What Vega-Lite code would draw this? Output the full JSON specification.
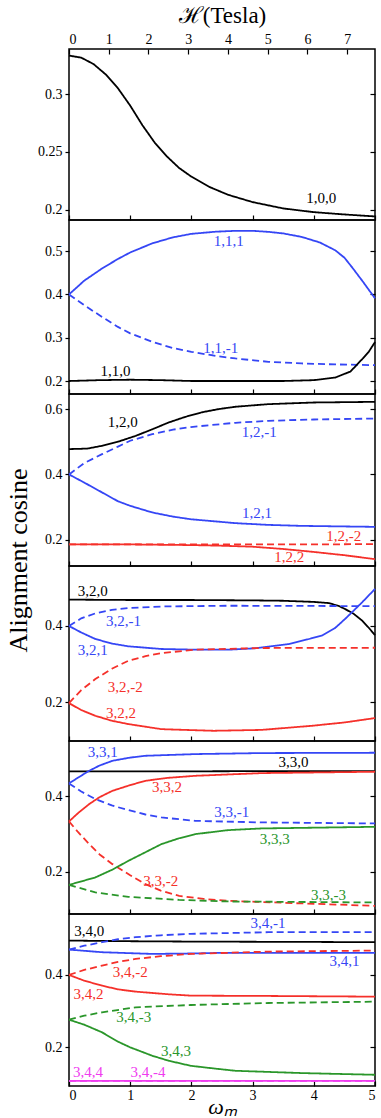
{
  "$schema": "https://vega.github.io/schema/vega-lite/v6.json",
  "background": "white",
  "padding": {"left": 5, "right": 5, "top": 3, "bottom": 0},
  "spacing": 0,
  "bounds": "flush",
  "title": {"text": "Alignment cosine", "orient": "left", "anchor": "middle", "font": "Liberation Serif", "fontSize": 26, "fontWeight": "normal", "color": "black", "offset": 5},
  "config": {
    "view": {"stroke": "black", "strokeWidth": 1.5},
    "axis": {"labelFont": "Liberation Serif", "labelFontSize": 14, "labelColor": "black", "titleFont": "Liberation Serif", "titleFontWeight": "normal", "titleColor": "black", "tickColor": "black", "tickWidth": 1.2, "domain": false, "grid": false},
    "text": {"font": "Liberation Serif", "fontSize": 15},
    "line": {"strokeWidth": 1.8}
  },
  "datasets": {
    "p1": [
      {"id": "1,0,0", "c": "k", "s": "solid", "w": 0, "v": 0.3333},
      {"id": "1,0,0", "c": "k", "s": "solid", "w": 0.2, "v": 0.3315},
      {"id": "1,0,0", "c": "k", "s": "solid", "w": 0.4, "v": 0.326},
      {"id": "1,0,0", "c": "k", "s": "solid", "w": 0.6, "v": 0.317},
      {"id": "1,0,0", "c": "k", "s": "solid", "w": 0.8, "v": 0.305},
      {"id": "1,0,0", "c": "k", "s": "solid", "w": 1.0, "v": 0.29},
      {"id": "1,0,0", "c": "k", "s": "solid", "w": 1.2, "v": 0.273},
      {"id": "1,0,0", "c": "k", "s": "solid", "w": 1.4, "v": 0.258},
      {"id": "1,0,0", "c": "k", "s": "solid", "w": 1.6, "v": 0.246},
      {"id": "1,0,0", "c": "k", "s": "solid", "w": 1.8, "v": 0.236},
      {"id": "1,0,0", "c": "k", "s": "solid", "w": 2.0, "v": 0.2285},
      {"id": "1,0,0", "c": "k", "s": "solid", "w": 2.3, "v": 0.2195},
      {"id": "1,0,0", "c": "k", "s": "solid", "w": 2.6, "v": 0.2128},
      {"id": "1,0,0", "c": "k", "s": "solid", "w": 3.0, "v": 0.2065},
      {"id": "1,0,0", "c": "k", "s": "solid", "w": 3.5, "v": 0.201},
      {"id": "1,0,0", "c": "k", "s": "solid", "w": 4.0, "v": 0.1978},
      {"id": "1,0,0", "c": "k", "s": "solid", "w": 4.5, "v": 0.1958},
      {"id": "1,0,0", "c": "k", "s": "solid", "w": 5.0, "v": 0.1941}
    ],
    "l1": [
      {"t": "1,0,0", "c": "k", "w": 4.12, "v": 0.2101}
    ],
    "p2": [
      {"id": "1,1,1", "c": "b", "s": "solid", "w": 0, "v": 0.4},
      {"id": "1,1,1", "c": "b", "s": "solid", "w": 0.25, "v": 0.432},
      {"id": "1,1,1", "c": "b", "s": "solid", "w": 0.54, "v": 0.46},
      {"id": "1,1,1", "c": "b", "s": "solid", "w": 0.8, "v": 0.482},
      {"id": "1,1,1", "c": "b", "s": "solid", "w": 1.0, "v": 0.497},
      {"id": "1,1,1", "c": "b", "s": "solid", "w": 1.36, "v": 0.518},
      {"id": "1,1,1", "c": "b", "s": "solid", "w": 1.7, "v": 0.532},
      {"id": "1,1,1", "c": "b", "s": "solid", "w": 2.0, "v": 0.54},
      {"id": "1,1,1", "c": "b", "s": "solid", "w": 2.4, "v": 0.545},
      {"id": "1,1,1", "c": "b", "s": "solid", "w": 2.72, "v": 0.547},
      {"id": "1,1,1", "c": "b", "s": "solid", "w": 3.0, "v": 0.547},
      {"id": "1,1,1", "c": "b", "s": "solid", "w": 3.26, "v": 0.5446},
      {"id": "1,1,1", "c": "b", "s": "solid", "w": 3.5, "v": 0.541},
      {"id": "1,1,1", "c": "b", "s": "solid", "w": 3.8, "v": 0.533},
      {"id": "1,1,1", "c": "b", "s": "solid", "w": 4.1, "v": 0.52},
      {"id": "1,1,1", "c": "b", "s": "solid", "w": 4.35, "v": 0.502},
      {"id": "1,1,1", "c": "b", "s": "solid", "w": 4.5, "v": 0.485},
      {"id": "1,1,1", "c": "b", "s": "solid", "w": 4.62, "v": 0.4637},
      {"id": "1,1,1", "c": "b", "s": "solid", "w": 4.8, "v": 0.43},
      {"id": "1,1,1", "c": "b", "s": "solid", "w": 5.0, "v": 0.391},
      {"id": "1,1,-1", "c": "b", "s": "dash", "w": 0, "v": 0.4},
      {"id": "1,1,-1", "c": "b", "s": "dash", "w": 0.25, "v": 0.375},
      {"id": "1,1,-1", "c": "b", "s": "dash", "w": 0.54, "v": 0.348},
      {"id": "1,1,-1", "c": "b", "s": "dash", "w": 0.8, "v": 0.325},
      {"id": "1,1,-1", "c": "b", "s": "dash", "w": 1.0, "v": 0.31},
      {"id": "1,1,-1", "c": "b", "s": "dash", "w": 1.36, "v": 0.2906},
      {"id": "1,1,-1", "c": "b", "s": "dash", "w": 1.7, "v": 0.276},
      {"id": "1,1,-1", "c": "b", "s": "dash", "w": 2.0, "v": 0.2674},
      {"id": "1,1,-1", "c": "b", "s": "dash", "w": 2.4, "v": 0.258},
      {"id": "1,1,-1", "c": "b", "s": "dash", "w": 2.72, "v": 0.2521},
      {"id": "1,1,-1", "c": "b", "s": "dash", "w": 3.26, "v": 0.2444},
      {"id": "1,1,-1", "c": "b", "s": "dash", "w": 3.8, "v": 0.2406},
      {"id": "1,1,-1", "c": "b", "s": "dash", "w": 4.35, "v": 0.2383},
      {"id": "1,1,-1", "c": "b", "s": "dash", "w": 5.0, "v": 0.2367},
      {"id": "1,1,0", "c": "k", "s": "solid", "w": 0, "v": 0.2},
      {"id": "1,1,0", "c": "k", "s": "solid", "w": 0.5, "v": 0.202},
      {"id": "1,1,0", "c": "k", "s": "solid", "w": 1.0, "v": 0.203},
      {"id": "1,1,0", "c": "k", "s": "solid", "w": 1.5, "v": 0.202},
      {"id": "1,1,0", "c": "k", "s": "solid", "w": 2.0, "v": 0.2},
      {"id": "1,1,0", "c": "k", "s": "solid", "w": 3.0, "v": 0.2},
      {"id": "1,1,0", "c": "k", "s": "solid", "w": 3.5, "v": 0.2},
      {"id": "1,1,0", "c": "k", "s": "solid", "w": 4.0, "v": 0.202},
      {"id": "1,1,0", "c": "k", "s": "solid", "w": 4.35, "v": 0.208},
      {"id": "1,1,0", "c": "k", "s": "solid", "w": 4.6, "v": 0.222},
      {"id": "1,1,0", "c": "k", "s": "solid", "w": 4.7, "v": 0.237},
      {"id": "1,1,0", "c": "k", "s": "solid", "w": 4.8, "v": 0.252},
      {"id": "1,1,0", "c": "k", "s": "solid", "w": 4.9, "v": 0.268},
      {"id": "1,1,0", "c": "k", "s": "solid", "w": 5.0, "v": 0.29}
    ],
    "l2": [
      {"t": "1,1,1", "c": "b", "w": 2.61, "v": 0.524},
      {"t": "1,1,-1", "c": "b", "w": 2.48, "v": 0.2753},
      {"t": "1,1,0", "c": "k", "w": 0.76, "v": 0.2236}
    ],
    "p3": [
      {"id": "1,2,0", "c": "k", "s": "solid", "w": 0, "v": 0.4775},
      {"id": "1,2,0", "c": "k", "s": "solid", "w": 0.3, "v": 0.479},
      {"id": "1,2,0", "c": "k", "s": "solid", "w": 0.54, "v": 0.4876},
      {"id": "1,2,0", "c": "k", "s": "solid", "w": 0.8, "v": 0.5},
      {"id": "1,2,0", "c": "k", "s": "solid", "w": 1.09, "v": 0.518},
      {"id": "1,2,0", "c": "k", "s": "solid", "w": 1.36, "v": 0.538},
      {"id": "1,2,0", "c": "k", "s": "solid", "w": 1.63, "v": 0.559},
      {"id": "1,2,0", "c": "k", "s": "solid", "w": 1.9, "v": 0.576},
      {"id": "1,2,0", "c": "k", "s": "solid", "w": 2.17, "v": 0.59},
      {"id": "1,2,0", "c": "k", "s": "solid", "w": 2.45, "v": 0.6},
      {"id": "1,2,0", "c": "k", "s": "solid", "w": 2.72, "v": 0.607},
      {"id": "1,2,0", "c": "k", "s": "solid", "w": 3.26, "v": 0.615},
      {"id": "1,2,0", "c": "k", "s": "solid", "w": 4.0, "v": 0.62},
      {"id": "1,2,0", "c": "k", "s": "solid", "w": 5.0, "v": 0.622},
      {"id": "1,2,-1", "c": "b", "s": "dash", "w": 0, "v": 0.4},
      {"id": "1,2,-1", "c": "b", "s": "dash", "w": 0.25, "v": 0.435},
      {"id": "1,2,-1", "c": "b", "s": "dash", "w": 0.54, "v": 0.462},
      {"id": "1,2,-1", "c": "b", "s": "dash", "w": 0.8, "v": 0.485},
      {"id": "1,2,-1", "c": "b", "s": "dash", "w": 1.0, "v": 0.503},
      {"id": "1,2,-1", "c": "b", "s": "dash", "w": 1.36, "v": 0.523},
      {"id": "1,2,-1", "c": "b", "s": "dash", "w": 1.7, "v": 0.537},
      {"id": "1,2,-1", "c": "b", "s": "dash", "w": 1.99, "v": 0.545},
      {"id": "1,2,-1", "c": "b", "s": "dash", "w": 2.72, "v": 0.558},
      {"id": "1,2,-1", "c": "b", "s": "dash", "w": 3.26, "v": 0.564},
      {"id": "1,2,-1", "c": "b", "s": "dash", "w": 4.0, "v": 0.568},
      {"id": "1,2,-1", "c": "b", "s": "dash", "w": 5.0, "v": 0.571},
      {"id": "1,2,1", "c": "b", "s": "solid", "w": 0, "v": 0.4},
      {"id": "1,2,1", "c": "b", "s": "solid", "w": 0.25, "v": 0.375},
      {"id": "1,2,1", "c": "b", "s": "solid", "w": 0.54, "v": 0.345},
      {"id": "1,2,1", "c": "b", "s": "solid", "w": 0.8, "v": 0.318},
      {"id": "1,2,1", "c": "b", "s": "solid", "w": 1.0, "v": 0.304},
      {"id": "1,2,1", "c": "b", "s": "solid", "w": 1.36, "v": 0.2837},
      {"id": "1,2,1", "c": "b", "s": "solid", "w": 1.7, "v": 0.271},
      {"id": "1,2,1", "c": "b", "s": "solid", "w": 1.99, "v": 0.263},
      {"id": "1,2,1", "c": "b", "s": "solid", "w": 2.72, "v": 0.251},
      {"id": "1,2,1", "c": "b", "s": "solid", "w": 3.26, "v": 0.2457},
      {"id": "1,2,1", "c": "b", "s": "solid", "w": 3.8, "v": 0.2427},
      {"id": "1,2,1", "c": "b", "s": "solid", "w": 5.0, "v": 0.2397},
      {"id": "1,2,-2", "c": "r", "s": "dash", "w": 0, "v": 0.186},
      {"id": "1,2,-2", "c": "r", "s": "dash", "w": 1, "v": 0.186},
      {"id": "1,2,-2", "c": "r", "s": "dash", "w": 2, "v": 0.186},
      {"id": "1,2,-2", "c": "r", "s": "dash", "w": 3, "v": 0.186},
      {"id": "1,2,-2", "c": "r", "s": "dash", "w": 4, "v": 0.186},
      {"id": "1,2,-2", "c": "r", "s": "dash", "w": 5, "v": 0.187},
      {"id": "1,2,2", "c": "r", "s": "solid", "w": 0, "v": 0.186},
      {"id": "1,2,2", "c": "r", "s": "solid", "w": 1, "v": 0.186},
      {"id": "1,2,2", "c": "r", "s": "solid", "w": 2, "v": 0.184},
      {"id": "1,2,2", "c": "r", "s": "solid", "w": 2.5, "v": 0.182},
      {"id": "1,2,2", "c": "r", "s": "solid", "w": 3, "v": 0.179},
      {"id": "1,2,2", "c": "r", "s": "solid", "w": 3.5, "v": 0.172},
      {"id": "1,2,2", "c": "r", "s": "solid", "w": 4, "v": 0.163},
      {"id": "1,2,2", "c": "r", "s": "solid", "w": 4.5, "v": 0.153},
      {"id": "1,2,2", "c": "r", "s": "solid", "w": 5, "v": 0.141}
    ],
    "l3": [
      {"t": "1,2,0", "c": "k", "w": 0.88, "v": 0.561},
      {"t": "1,2,-1", "c": "b", "w": 3.11, "v": 0.53},
      {"t": "1,2,1", "c": "b", "w": 3.07, "v": 0.2815},
      {"t": "1,2,-2", "c": "r", "w": 4.49, "v": 0.212},
      {"t": "1,2,2", "c": "r", "w": 3.6, "v": 0.146}
    ],
    "p4": [
      {"id": "3,2,0", "c": "k", "s": "solid", "w": 0, "v": 0.469},
      {"id": "3,2,0", "c": "k", "s": "solid", "w": 1, "v": 0.468},
      {"id": "3,2,0", "c": "k", "s": "solid", "w": 2, "v": 0.468},
      {"id": "3,2,0", "c": "k", "s": "solid", "w": 3, "v": 0.467},
      {"id": "3,2,0", "c": "k", "s": "solid", "w": 3.5, "v": 0.466},
      {"id": "3,2,0", "c": "k", "s": "solid", "w": 4, "v": 0.463},
      {"id": "3,2,0", "c": "k", "s": "solid", "w": 4.24, "v": 0.46},
      {"id": "3,2,0", "c": "k", "s": "solid", "w": 4.4, "v": 0.453},
      {"id": "3,2,0", "c": "k", "s": "solid", "w": 4.51, "v": 0.4445},
      {"id": "3,2,0", "c": "k", "s": "solid", "w": 4.65, "v": 0.432},
      {"id": "3,2,0", "c": "k", "s": "solid", "w": 4.79, "v": 0.414},
      {"id": "3,2,0", "c": "k", "s": "solid", "w": 4.9, "v": 0.395},
      {"id": "3,2,0", "c": "k", "s": "solid", "w": 5, "v": 0.376},
      {"id": "3,2,-1", "c": "b", "s": "dash", "w": 0, "v": 0.4},
      {"id": "3,2,-1", "c": "b", "s": "dash", "w": 0.2, "v": 0.42},
      {"id": "3,2,-1", "c": "b", "s": "dash", "w": 0.43, "v": 0.433},
      {"id": "3,2,-1", "c": "b", "s": "dash", "w": 0.7, "v": 0.442},
      {"id": "3,2,-1", "c": "b", "s": "dash", "w": 0.97, "v": 0.447},
      {"id": "3,2,-1", "c": "b", "s": "dash", "w": 1.51, "v": 0.451},
      {"id": "3,2,-1", "c": "b", "s": "dash", "w": 2.6, "v": 0.453},
      {"id": "3,2,-1", "c": "b", "s": "dash", "w": 5, "v": 0.452},
      {"id": "3,2,1", "c": "b", "s": "solid", "w": 0, "v": 0.4},
      {"id": "3,2,1", "c": "b", "s": "solid", "w": 0.2, "v": 0.383},
      {"id": "3,2,1", "c": "b", "s": "solid", "w": 0.43, "v": 0.366},
      {"id": "3,2,1", "c": "b", "s": "solid", "w": 0.7, "v": 0.354},
      {"id": "3,2,1", "c": "b", "s": "solid", "w": 0.97, "v": 0.3468},
      {"id": "3,2,1", "c": "b", "s": "solid", "w": 1.51, "v": 0.3398},
      {"id": "3,2,1", "c": "b", "s": "solid", "w": 2.06, "v": 0.338},
      {"id": "3,2,1", "c": "b", "s": "solid", "w": 2.6, "v": 0.338},
      {"id": "3,2,1", "c": "b", "s": "solid", "w": 3.04, "v": 0.3416},
      {"id": "3,2,1", "c": "b", "s": "solid", "w": 3.59, "v": 0.3528},
      {"id": "3,2,1", "c": "b", "s": "solid", "w": 3.9, "v": 0.365},
      {"id": "3,2,1", "c": "b", "s": "solid", "w": 4.13, "v": 0.3746},
      {"id": "3,2,1", "c": "b", "s": "solid", "w": 4.35, "v": 0.395},
      {"id": "3,2,1", "c": "b", "s": "solid", "w": 4.51, "v": 0.4183},
      {"id": "3,2,1", "c": "b", "s": "solid", "w": 4.65, "v": 0.44},
      {"id": "3,2,1", "c": "b", "s": "solid", "w": 4.79, "v": 0.462},
      {"id": "3,2,1", "c": "b", "s": "solid", "w": 5, "v": 0.497},
      {"id": "3,2,-2", "c": "r", "s": "dash", "w": 0, "v": 0.1983},
      {"id": "3,2,-2", "c": "r", "s": "dash", "w": 0.2, "v": 0.232},
      {"id": "3,2,-2", "c": "r", "s": "dash", "w": 0.43, "v": 0.261},
      {"id": "3,2,-2", "c": "r", "s": "dash", "w": 0.7, "v": 0.288},
      {"id": "3,2,-2", "c": "r", "s": "dash", "w": 0.97, "v": 0.309},
      {"id": "3,2,-2", "c": "r", "s": "dash", "w": 1.25, "v": 0.321},
      {"id": "3,2,-2", "c": "r", "s": "dash", "w": 1.51, "v": 0.329},
      {"id": "3,2,-2", "c": "r", "s": "dash", "w": 2.06, "v": 0.338},
      {"id": "3,2,-2", "c": "r", "s": "dash", "w": 3.14, "v": 0.3424},
      {"id": "3,2,-2", "c": "r", "s": "dash", "w": 5, "v": 0.343},
      {"id": "3,2,2", "c": "r", "s": "solid", "w": 0, "v": 0.198},
      {"id": "3,2,2", "c": "r", "s": "solid", "w": 0.2, "v": 0.18},
      {"id": "3,2,2", "c": "r", "s": "solid", "w": 0.43, "v": 0.165},
      {"id": "3,2,2", "c": "r", "s": "solid", "w": 0.7, "v": 0.152},
      {"id": "3,2,2", "c": "r", "s": "solid", "w": 0.97, "v": 0.1433},
      {"id": "3,2,2", "c": "r", "s": "solid", "w": 1.51, "v": 0.13},
      {"id": "3,2,2", "c": "r", "s": "solid", "w": 2.36, "v": 0.1257},
      {"id": "3,2,2", "c": "r", "s": "solid", "w": 3.14, "v": 0.128},
      {"id": "3,2,2", "c": "r", "s": "solid", "w": 3.97, "v": 0.1388},
      {"id": "3,2,2", "c": "r", "s": "solid", "w": 4.51, "v": 0.1477},
      {"id": "3,2,2", "c": "r", "s": "solid", "w": 5, "v": 0.159}
    ],
    "l4": [
      {"t": "3,2,0", "c": "k", "w": 0.39, "v": 0.4925},
      {"t": "3,2,-1", "c": "b", "w": 0.89, "v": 0.4139},
      {"t": "3,2,1", "c": "b", "w": 0.39, "v": 0.338},
      {"t": "3,2,-2", "c": "r", "w": 0.92, "v": 0.2393},
      {"t": "3,2,2", "c": "r", "w": 0.85, "v": 0.171}
    ],
    "p5": [
      {"id": "3,3,0", "c": "k", "s": "solid", "w": 0, "v": 0.4664},
      {"id": "3,3,0", "c": "k", "s": "solid", "w": 1, "v": 0.4664},
      {"id": "3,3,0", "c": "k", "s": "solid", "w": 2, "v": 0.4665},
      {"id": "3,3,0", "c": "k", "s": "solid", "w": 3, "v": 0.467},
      {"id": "3,3,0", "c": "k", "s": "solid", "w": 5, "v": 0.467},
      {"id": "3,3,1", "c": "b", "s": "solid", "w": 0, "v": 0.4345},
      {"id": "3,3,1", "c": "b", "s": "solid", "w": 0.15, "v": 0.45},
      {"id": "3,3,1", "c": "b", "s": "solid", "w": 0.33, "v": 0.468},
      {"id": "3,3,1", "c": "b", "s": "solid", "w": 0.5, "v": 0.482},
      {"id": "3,3,1", "c": "b", "s": "solid", "w": 0.71, "v": 0.4945},
      {"id": "3,3,1", "c": "b", "s": "solid", "w": 1.0, "v": 0.503},
      {"id": "3,3,1", "c": "b", "s": "solid", "w": 1.25, "v": 0.5078},
      {"id": "3,3,1", "c": "b", "s": "solid", "w": 2.07, "v": 0.5123},
      {"id": "3,3,1", "c": "b", "s": "solid", "w": 3.16, "v": 0.515},
      {"id": "3,3,1", "c": "b", "s": "solid", "w": 5, "v": 0.5158},
      {"id": "3,3,-1", "c": "b", "s": "dash", "w": 0, "v": 0.4345},
      {"id": "3,3,-1", "c": "b", "s": "dash", "w": 0.2, "v": 0.413},
      {"id": "3,3,-1", "c": "b", "s": "dash", "w": 0.43, "v": 0.3928},
      {"id": "3,3,-1", "c": "b", "s": "dash", "w": 0.7, "v": 0.376},
      {"id": "3,3,-1", "c": "b", "s": "dash", "w": 0.97, "v": 0.3636},
      {"id": "3,3,-1", "c": "b", "s": "dash", "w": 1.25, "v": 0.352},
      {"id": "3,3,-1", "c": "b", "s": "dash", "w": 1.51, "v": 0.3442},
      {"id": "3,3,-1", "c": "b", "s": "dash", "w": 2.06, "v": 0.3352},
      {"id": "3,3,-1", "c": "b", "s": "dash", "w": 3.14, "v": 0.331},
      {"id": "3,3,-1", "c": "b", "s": "dash", "w": 5, "v": 0.3283},
      {"id": "3,3,2", "c": "r", "s": "solid", "w": 0, "v": 0.3336},
      {"id": "3,3,2", "c": "r", "s": "solid", "w": 0.15, "v": 0.356},
      {"id": "3,3,2", "c": "r", "s": "solid", "w": 0.33, "v": 0.3796},
      {"id": "3,3,2", "c": "r", "s": "solid", "w": 0.5, "v": 0.398},
      {"id": "3,3,2", "c": "r", "s": "solid", "w": 0.71, "v": 0.4149},
      {"id": "3,3,2", "c": "r", "s": "solid", "w": 1.0, "v": 0.43},
      {"id": "3,3,2", "c": "r", "s": "solid", "w": 1.25, "v": 0.4414},
      {"id": "3,3,2", "c": "r", "s": "solid", "w": 1.6, "v": 0.449},
      {"id": "3,3,2", "c": "r", "s": "solid", "w": 2.07, "v": 0.4547},
      {"id": "3,3,2", "c": "r", "s": "solid", "w": 3.16, "v": 0.4619},
      {"id": "3,3,2", "c": "r", "s": "solid", "w": 5, "v": 0.4654},
      {"id": "3,3,-2", "c": "r", "s": "dash", "w": 0, "v": 0.3336},
      {"id": "3,3,-2", "c": "r", "s": "dash", "w": 0.15, "v": 0.305},
      {"id": "3,3,-2", "c": "r", "s": "dash", "w": 0.33, "v": 0.2734},
      {"id": "3,3,-2", "c": "r", "s": "dash", "w": 0.5, "v": 0.246},
      {"id": "3,3,-2", "c": "r", "s": "dash", "w": 0.71, "v": 0.2203},
      {"id": "3,3,-2", "c": "r", "s": "dash", "w": 1.0, "v": 0.191},
      {"id": "3,3,-2", "c": "r", "s": "dash", "w": 1.25, "v": 0.1672},
      {"id": "3,3,-2", "c": "r", "s": "dash", "w": 1.5, "v": 0.15},
      {"id": "3,3,-2", "c": "r", "s": "dash", "w": 1.8, "v": 0.1361},
      {"id": "3,3,-2", "c": "r", "s": "dash", "w": 2.2, "v": 0.128},
      {"id": "3,3,-2", "c": "r", "s": "dash", "w": 2.6, "v": 0.1229},
      {"id": "3,3,-2", "c": "r", "s": "dash", "w": 3.69, "v": 0.1167},
      {"id": "3,3,-2", "c": "r", "s": "dash", "w": 5, "v": 0.1096},
      {"id": "3,3,3", "c": "g", "s": "solid", "w": 0, "v": 0.1653},
      {"id": "3,3,3", "c": "g", "s": "solid", "w": 0.43, "v": 0.185},
      {"id": "3,3,3", "c": "g", "s": "solid", "w": 0.7, "v": 0.205},
      {"id": "3,3,3", "c": "g", "s": "solid", "w": 0.97, "v": 0.229},
      {"id": "3,3,3", "c": "g", "s": "solid", "w": 1.25, "v": 0.252},
      {"id": "3,3,3", "c": "g", "s": "solid", "w": 1.51, "v": 0.2734},
      {"id": "3,3,3", "c": "g", "s": "solid", "w": 1.8, "v": 0.289},
      {"id": "3,3,3", "c": "g", "s": "solid", "w": 2.06, "v": 0.2999},
      {"id": "3,3,3", "c": "g", "s": "solid", "w": 2.6, "v": 0.3105},
      {"id": "3,3,3", "c": "g", "s": "solid", "w": 3.14, "v": 0.315},
      {"id": "3,3,3", "c": "g", "s": "solid", "w": 5, "v": 0.3193},
      {"id": "3,3,-3", "c": "g", "s": "dash", "w": 0, "v": 0.1653},
      {"id": "3,3,-3", "c": "g", "s": "dash", "w": 0.43, "v": 0.1452},
      {"id": "3,3,-3", "c": "g", "s": "dash", "w": 0.97, "v": 0.1335},
      {"id": "3,3,-3", "c": "g", "s": "dash", "w": 1.8, "v": 0.1255},
      {"id": "3,3,-3", "c": "g", "s": "dash", "w": 2.6, "v": 0.1213},
      {"id": "3,3,-3", "c": "g", "s": "dash", "w": 5, "v": 0.1186}
    ],
    "l5": [
      {"t": "3,3,0", "c": "k", "w": 3.67, "v": 0.4903},
      {"t": "3,3,1", "c": "b", "w": 0.55, "v": 0.519},
      {"t": "3,3,-1", "c": "b", "w": 2.66, "v": 0.3575},
      {"t": "3,3,2", "c": "r", "w": 1.6, "v": 0.424},
      {"t": "3,3,-2", "c": "r", "w": 1.5, "v": 0.176},
      {"t": "3,3,3", "c": "g", "w": 3.36, "v": 0.2866},
      {"t": "3,3,-3", "c": "g", "w": 4.24, "v": 0.139}
    ],
    "p6": [
      {"id": "3,4,0", "c": "k", "s": "solid", "w": 0, "v": 0.4953},
      {"id": "3,4,0", "c": "k", "s": "solid", "w": 1, "v": 0.4935},
      {"id": "3,4,0", "c": "k", "s": "solid", "w": 2, "v": 0.4925},
      {"id": "3,4,0", "c": "k", "s": "solid", "w": 3, "v": 0.492},
      {"id": "3,4,0", "c": "k", "s": "solid", "w": 4, "v": 0.4915},
      {"id": "3,4,0", "c": "k", "s": "solid", "w": 5, "v": 0.4908},
      {"id": "3,4,-1", "c": "b", "s": "dash", "w": 0, "v": 0.4703},
      {"id": "3,4,-1", "c": "b", "s": "dash", "w": 0.25, "v": 0.481},
      {"id": "3,4,-1", "c": "b", "s": "dash", "w": 0.54, "v": 0.4908},
      {"id": "3,4,-1", "c": "b", "s": "dash", "w": 0.8, "v": 0.499},
      {"id": "3,4,-1", "c": "b", "s": "dash", "w": 1.09, "v": 0.5047},
      {"id": "3,4,-1", "c": "b", "s": "dash", "w": 1.5, "v": 0.51},
      {"id": "3,4,-1", "c": "b", "s": "dash", "w": 1.99, "v": 0.5139},
      {"id": "3,4,-1", "c": "b", "s": "dash", "w": 3.26, "v": 0.5186},
      {"id": "3,4,-1", "c": "b", "s": "dash", "w": 5, "v": 0.5186},
      {"id": "3,4,1", "c": "b", "s": "solid", "w": 0, "v": 0.4703},
      {"id": "3,4,1", "c": "b", "s": "solid", "w": 0.54, "v": 0.463},
      {"id": "3,4,1", "c": "b", "s": "solid", "w": 1.36, "v": 0.4583},
      {"id": "3,4,1", "c": "b", "s": "solid", "w": 2.0, "v": 0.4595},
      {"id": "3,4,1", "c": "b", "s": "solid", "w": 2.45, "v": 0.4611},
      {"id": "3,4,1", "c": "b", "s": "solid", "w": 5, "v": 0.4611},
      {"id": "3,4,-2", "c": "r", "s": "dash", "w": 0, "v": 0.4},
      {"id": "3,4,-2", "c": "r", "s": "dash", "w": 0.25, "v": 0.414},
      {"id": "3,4,-2", "c": "r", "s": "dash", "w": 0.54, "v": 0.4259},
      {"id": "3,4,-2", "c": "r", "s": "dash", "w": 0.8, "v": 0.436},
      {"id": "3,4,-2", "c": "r", "s": "dash", "w": 1.09, "v": 0.4444},
      {"id": "3,4,-2", "c": "r", "s": "dash", "w": 1.5, "v": 0.452},
      {"id": "3,4,-2", "c": "r", "s": "dash", "w": 1.99, "v": 0.4583},
      {"id": "3,4,-2", "c": "r", "s": "dash", "w": 3.26, "v": 0.4648},
      {"id": "3,4,-2", "c": "r", "s": "dash", "w": 5, "v": 0.4676},
      {"id": "3,4,2", "c": "r", "s": "solid", "w": 0, "v": 0.4},
      {"id": "3,4,2", "c": "r", "s": "solid", "w": 0.25, "v": 0.384},
      {"id": "3,4,2", "c": "r", "s": "solid", "w": 0.54, "v": 0.3704},
      {"id": "3,4,2", "c": "r", "s": "solid", "w": 0.8, "v": 0.36},
      {"id": "3,4,2", "c": "r", "s": "solid", "w": 1.09, "v": 0.3537},
      {"id": "3,4,2", "c": "r", "s": "solid", "w": 1.63, "v": 0.3463},
      {"id": "3,4,2", "c": "r", "s": "solid", "w": 1.99, "v": 0.3426},
      {"id": "3,4,2", "c": "r", "s": "solid", "w": 3.26, "v": 0.3417},
      {"id": "3,4,2", "c": "r", "s": "solid", "w": 5, "v": 0.3398},
      {"id": "3,4,-3", "c": "g", "s": "dash", "w": 0, "v": 0.2759},
      {"id": "3,4,-3", "c": "g", "s": "dash", "w": 0.25, "v": 0.287},
      {"id": "3,4,-3", "c": "g", "s": "dash", "w": 0.54, "v": 0.2963},
      {"id": "3,4,-3", "c": "g", "s": "dash", "w": 1.09, "v": 0.3102},
      {"id": "3,4,-3", "c": "g", "s": "dash", "w": 1.99, "v": 0.3167},
      {"id": "3,4,-3", "c": "g", "s": "dash", "w": 3.26, "v": 0.3222},
      {"id": "3,4,-3", "c": "g", "s": "dash", "w": 5, "v": 0.3259},
      {"id": "3,4,3", "c": "g", "s": "solid", "w": 0, "v": 0.2759},
      {"id": "3,4,3", "c": "g", "s": "solid", "w": 0.25, "v": 0.262},
      {"id": "3,4,3", "c": "g", "s": "solid", "w": 0.54, "v": 0.2408},
      {"id": "3,4,3", "c": "g", "s": "solid", "w": 0.8, "v": 0.215},
      {"id": "3,4,3", "c": "g", "s": "solid", "w": 1.0, "v": 0.1992},
      {"id": "3,4,3", "c": "g", "s": "solid", "w": 1.36, "v": 0.1759},
      {"id": "3,4,3", "c": "g", "s": "solid", "w": 1.63, "v": 0.162},
      {"id": "3,4,3", "c": "g", "s": "solid", "w": 1.99, "v": 0.148},
      {"id": "3,4,3", "c": "g", "s": "solid", "w": 2.4, "v": 0.14},
      {"id": "3,4,3", "c": "g", "s": "solid", "w": 2.72, "v": 0.1342},
      {"id": "3,4,3", "c": "g", "s": "solid", "w": 3.81, "v": 0.1278},
      {"id": "3,4,3", "c": "g", "s": "solid", "w": 5, "v": 0.1231},
      {"id": "3,4,4", "c": "m", "s": "solid", "w": 0, "v": 0.1064},
      {"id": "3,4,4", "c": "m", "s": "solid", "w": 5, "v": 0.1064},
      {"id": "3,4,-4", "c": "m", "s": "dash", "w": 0, "v": 0.1064},
      {"id": "3,4,-4", "c": "m", "s": "dash", "w": 5, "v": 0.1064}
    ],
    "l6": [
      {"t": "3,4,0", "c": "k", "w": 0.33, "v": 0.5213},
      {"t": "3,4,-1", "c": "b", "w": 3.25, "v": 0.5444},
      {"t": "3,4,1", "c": "b", "w": 4.5, "v": 0.438},
      {"t": "3,4,-2", "c": "r", "w": 1.0, "v": 0.409},
      {"t": "3,4,2", "c": "r", "w": 0.32, "v": 0.347},
      {"t": "3,4,-3", "c": "g", "w": 1.06, "v": 0.2825},
      {"t": "3,4,3", "c": "g", "w": 1.75, "v": 0.1897},
      {"t": "3,4,4", "c": "m", "w": 0.31, "v": 0.1297},
      {"t": "3,4,-4", "c": "m", "w": 1.29, "v": 0.1297}
    ]
  },
  "vconcat": [
    {
      "width": 306, "height": 171,
      "layer": [
        {"data": {"name": "p1"}, "mark": {"type": "line"},
         "encoding": {
           "x": {"field": "w", "type": "quantitative", "scale": {"domain": [0, 5], "nice": false, "zero": false}, "axis": {"orient": "bottom", "values": [0, 1, 2, 3, 4, 5], "labels": false, "tickSize": -5, "title": null}},
           "y": {"field": "v", "type": "quantitative", "scale": {"domain": [0.191, 0.339], "nice": false, "zero": false}, "axis": {"values": [0.2, 0.25, 0.3], "format": ".2~f", "tickSize": 4, "labelPadding": 3, "title": null}},
           "color": {"field": "c", "type": "nominal", "scale": {"domain": ["k", "b", "r", "g", "m"], "range": ["#000000", "#3546f5", "#f5302a", "#2a962a", "#ef3cef"]}, "legend": null},
           "strokeDash": {"field": "s", "type": "nominal", "scale": {"domain": ["solid", "dash"], "range": [[1, 0], [7, 4]]}, "legend": null},
           "detail": {"field": "id"}
         }},
        {"data": {"name": "l1"}, "mark": {"type": "text"},
         "encoding": {
           "x": {"field": "w", "type": "quantitative", "scale": {"domain": [0, 5], "nice": false, "zero": false}, "axis": {"orient": "top", "values": [0, 0.6494, 1.2987, 1.9481, 2.5974, 3.2468, 3.8961, 4.5455], "labelExpr": "format(datum.value * 1.54, '.0f')", "tickSize": -5, "labelPadding": 8, "title": "ℋ(Tesla)", "titleFontSize": 23, "titlePadding": 5}},
           "y": {"field": "v", "type": "quantitative", "axis": {"orient": "right", "values": [0.2, 0.25, 0.3], "labels": false, "tickSize": -5, "title": null}},
           "text": {"field": "t"},
           "color": {"field": "c", "type": "nominal", "legend": null}
         }}
      ],
      "resolve": {"axis": {"x": "independent", "y": "independent"}}
    },
    {
      "width": 306, "height": 174,
      "layer": [
        {"data": {"name": "p2"}, "mark": {"type": "line"},
         "encoding": {
           "x": {"field": "w", "type": "quantitative", "scale": {"domain": [0, 5], "nice": false, "zero": false}, "axis": {"orient": "bottom", "values": [0, 1, 2, 3, 4, 5], "labels": false, "tickSize": -5, "title": null}},
           "y": {"field": "v", "type": "quantitative", "scale": {"domain": [0.17, 0.572], "nice": false, "zero": false}, "axis": {"values": [0.2, 0.3, 0.4, 0.5], "format": ".2~f", "tickSize": 4, "labelPadding": 3, "title": null}},
           "color": {"field": "c", "type": "nominal", "scale": {"domain": ["k", "b", "r", "g", "m"], "range": ["#000000", "#3546f5", "#f5302a", "#2a962a", "#ef3cef"]}, "legend": null},
           "strokeDash": {"field": "s", "type": "nominal", "scale": {"domain": ["solid", "dash"], "range": [[1, 0], [7, 4]]}, "legend": null},
           "detail": {"field": "id"}
         }},
        {"data": {"name": "l2"}, "mark": {"type": "text"},
         "encoding": {
           "x": {"field": "w", "type": "quantitative", "scale": {"domain": [0, 5], "nice": false, "zero": false}, "axis": {"orient": "bottom", "values": [0, 1, 2, 3, 4, 5], "labels": false, "tickSize": -5, "title": null}},
           "y": {"field": "v", "type": "quantitative", "axis": {"orient": "right", "values": [0.2, 0.3, 0.4, 0.5], "labels": false, "tickSize": -5, "title": null}},
           "text": {"field": "t"},
           "color": {"field": "c", "type": "nominal", "legend": null}
         }}
      ],
      "resolve": {"axis": {"y": "independent"}}
    },
    {
      "width": 306, "height": 172,
      "layer": [
        {"data": {"name": "p3"}, "mark": {"type": "line"},
         "encoding": {
           "x": {"field": "w", "type": "quantitative", "scale": {"domain": [0, 5], "nice": false, "zero": false}, "axis": {"orient": "bottom", "values": [0, 1, 2, 3, 4, 5], "labels": false, "tickSize": -5, "title": null}},
           "y": {"field": "v", "type": "quantitative", "scale": {"domain": [0.12, 0.646], "nice": false, "zero": false}, "axis": {"values": [0.2, 0.4, 0.6], "format": ".2~f", "tickSize": 4, "labelPadding": 3, "title": null}},
           "color": {"field": "c", "type": "nominal", "scale": {"domain": ["k", "b", "r", "g", "m"], "range": ["#000000", "#3546f5", "#f5302a", "#2a962a", "#ef3cef"]}, "legend": null},
           "strokeDash": {"field": "s", "type": "nominal", "scale": {"domain": ["solid", "dash"], "range": [[1, 0], [7, 4]]}, "legend": null},
           "detail": {"field": "id"}
         }},
        {"data": {"name": "l3"}, "mark": {"type": "text"},
         "encoding": {
           "x": {"field": "w", "type": "quantitative", "scale": {"domain": [0, 5], "nice": false, "zero": false}, "axis": {"orient": "bottom", "values": [0, 1, 2, 3, 4, 5], "labels": false, "tickSize": -5, "title": null}},
           "y": {"field": "v", "type": "quantitative", "axis": {"orient": "right", "values": [0.2, 0.4, 0.6], "labels": false, "tickSize": -5, "title": null}},
           "text": {"field": "t"},
           "color": {"field": "c", "type": "nominal", "legend": null}
         }}
      ],
      "resolve": {"axis": {"y": "independent"}}
    },
    {
      "width": 306, "height": 175,
      "layer": [
        {"data": {"name": "p4"}, "mark": {"type": "line"},
         "encoding": {
           "x": {"field": "w", "type": "quantitative", "scale": {"domain": [0, 5], "nice": false, "zero": false}, "axis": {"orient": "bottom", "values": [0, 1, 2, 3, 4, 5], "labels": false, "tickSize": -5, "title": null}},
           "y": {"field": "v", "type": "quantitative", "scale": {"domain": [0.099, 0.557], "nice": false, "zero": false}, "axis": {"values": [0.2, 0.4], "format": ".2~f", "tickSize": 4, "labelPadding": 3, "title": null}},
           "color": {"field": "c", "type": "nominal", "scale": {"domain": ["k", "b", "r", "g", "m"], "range": ["#000000", "#3546f5", "#f5302a", "#2a962a", "#ef3cef"]}, "legend": null},
           "strokeDash": {"field": "s", "type": "nominal", "scale": {"domain": ["solid", "dash"], "range": [[1, 0], [7, 4]]}, "legend": null},
           "detail": {"field": "id"}
         }},
        {"data": {"name": "l4"}, "mark": {"type": "text"},
         "encoding": {
           "x": {"field": "w", "type": "quantitative", "scale": {"domain": [0, 5], "nice": false, "zero": false}, "axis": {"orient": "bottom", "values": [0, 1, 2, 3, 4, 5], "labels": false, "tickSize": -5, "title": null}},
           "y": {"field": "v", "type": "quantitative", "axis": {"orient": "right", "values": [0.2, 0.4], "labels": false, "tickSize": -5, "title": null}},
           "text": {"field": "t"},
           "color": {"field": "c", "type": "nominal", "legend": null}
         }}
      ],
      "resolve": {"axis": {"y": "independent"}}
    },
    {
      "width": 306, "height": 173,
      "layer": [
        {"data": {"name": "p5"}, "mark": {"type": "line"},
         "encoding": {
           "x": {"field": "w", "type": "quantitative", "scale": {"domain": [0, 5], "nice": false, "zero": false}, "axis": {"orient": "bottom", "values": [0, 1, 2, 3, 4, 5], "labels": false, "tickSize": -5, "title": null}},
           "y": {"field": "v", "type": "quantitative", "scale": {"domain": [0.088, 0.547], "nice": false, "zero": false}, "axis": {"values": [0.2, 0.4], "format": ".2~f", "tickSize": 4, "labelPadding": 3, "title": null}},
           "color": {"field": "c", "type": "nominal", "scale": {"domain": ["k", "b", "r", "g", "m"], "range": ["#000000", "#3546f5", "#f5302a", "#2a962a", "#ef3cef"]}, "legend": null},
           "strokeDash": {"field": "s", "type": "nominal", "scale": {"domain": ["solid", "dash"], "range": [[1, 0], [7, 4]]}, "legend": null},
           "detail": {"field": "id"}
         }},
        {"data": {"name": "l5"}, "mark": {"type": "text"},
         "encoding": {
           "x": {"field": "w", "type": "quantitative", "scale": {"domain": [0, 5], "nice": false, "zero": false}, "axis": {"orient": "bottom", "values": [0, 1, 2, 3, 4, 5], "labels": false, "tickSize": -5, "title": null}},
           "y": {"field": "v", "type": "quantitative", "axis": {"orient": "right", "values": [0.2, 0.4], "labels": false, "tickSize": -5, "title": null}},
           "text": {"field": "t"},
           "color": {"field": "c", "type": "nominal", "legend": null}
         }}
      ],
      "resolve": {"axis": {"y": "independent"}}
    },
    {
      "width": 306, "height": 172,
      "layer": [
        {"data": {"name": "p6"}, "mark": {"type": "line"},
         "encoding": {
           "x": {"field": "w", "type": "quantitative", "scale": {"domain": [0, 5], "nice": false, "zero": false}, "axis": {"orient": "bottom", "values": [0, 1, 2, 3, 4, 5], "labels": true, "format": "d", "tickSize": -5, "labelPadding": 7, "title": "ωₘ", "titleFontSize": 22, "titleFontStyle": "italic", "titlePadding": -6}},
           "y": {"field": "v", "type": "quantitative", "scale": {"domain": [0.092, 0.569], "nice": false, "zero": false}, "axis": {"values": [0.2, 0.4], "format": ".2~f", "tickSize": 4, "labelPadding": 3, "title": null}},
           "color": {"field": "c", "type": "nominal", "scale": {"domain": ["k", "b", "r", "g", "m"], "range": ["#000000", "#3546f5", "#f5302a", "#2a962a", "#ef3cef"]}, "legend": null},
           "strokeDash": {"field": "s", "type": "nominal", "scale": {"domain": ["solid", "dash"], "range": [[1, 0], [7, 4]]}, "legend": null},
           "detail": {"field": "id"}
         }},
        {"data": {"name": "l6"}, "mark": {"type": "text"},
         "encoding": {
           "x": {"field": "w", "type": "quantitative", "scale": {"domain": [0, 5], "nice": false, "zero": false}, "axis": {"orient": "bottom", "values": [0, 1, 2, 3, 4, 5], "labels": true, "format": "d", "tickSize": -5, "labelPadding": 7, "title": "ωₘ", "titleFontSize": 22, "titleFontStyle": "italic", "titlePadding": -6}},
           "y": {"field": "v", "type": "quantitative", "axis": {"orient": "right", "values": [0.2, 0.4], "labels": false, "tickSize": -5, "title": null}},
           "text": {"field": "t"},
           "color": {"field": "c", "type": "nominal", "legend": null}
         }}
      ],
      "resolve": {"axis": {"y": "independent"}}
    }
  ]
}
